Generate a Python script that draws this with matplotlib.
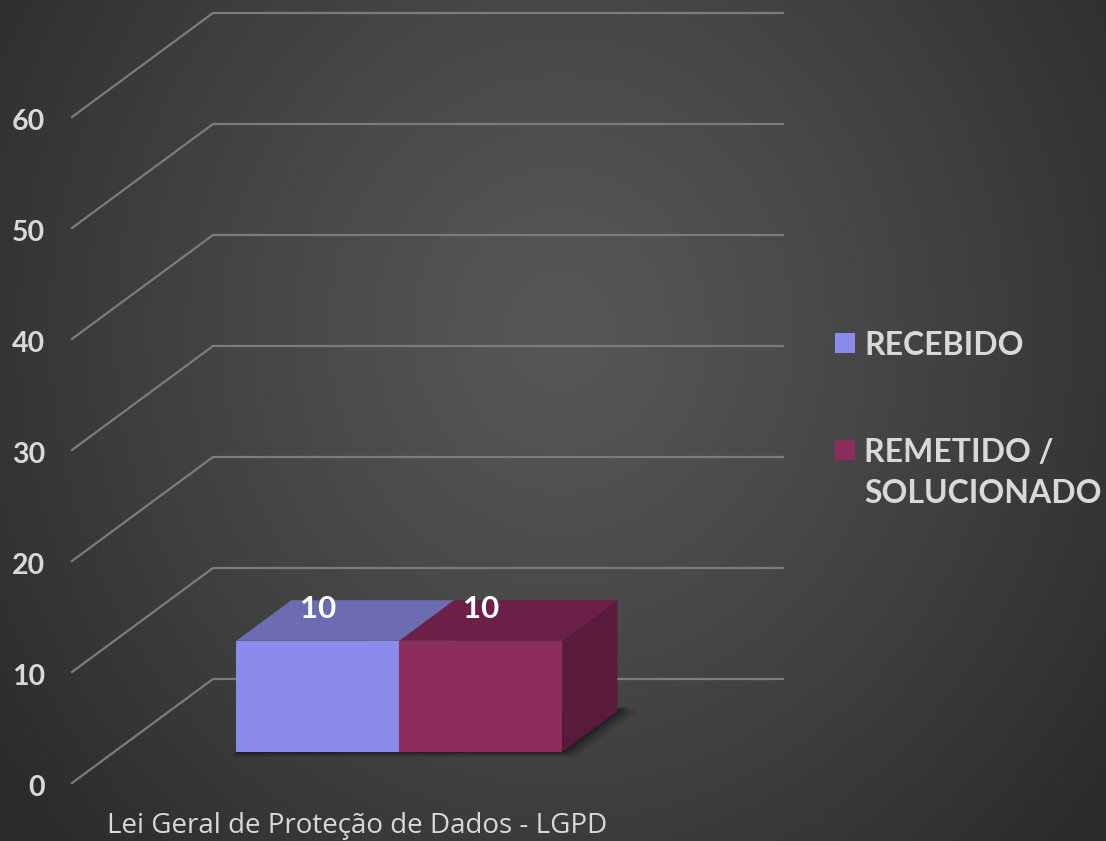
import numpy as np
import matplotlib
matplotlib.use("Agg")
import matplotlib.pyplot as plt
from matplotlib.patches import Polygon, Rectangle

# ---- data ----
category = "Lei Geral de Proteção de Dados - LGPD"
series_names = ["RECEBIDO", "REMETIDO /\nSOLUCIONADO"]
series_values = [10, 10]
y_ticks = [0, 10, 20, 30, 40, 50, 60]
front_colors = ["#8B8BEB", "#8C2D5C"]
top_colors = ["#6C6CB2", "#6C2047"]
side_colors = ["#5E5EA0", "#5A1A3B"]

W, H = 1106, 841
fig = plt.figure(figsize=(W / 100, H / 100), dpi=100)

# background radial gradient
bg = fig.add_axes([0, 0, 1, 1], zorder=0)
yy, xx = np.mgrid[0:H, 0:W]
r = np.sqrt(((xx - 560) / 1.0) ** 2 + ((yy - 330) / 1.1) ** 2)
t = np.clip(r / 700.0, 0, 1)
c0, c1 = 0x57 / 255, 0x2a / 255
img = c0 + (c1 - c0) * t ** 1.2
bg.imshow(np.dstack([img, img, img]), aspect="auto", extent=[0, W, H, 0])
bg.axis("off")

# main axes: x in category units (front floor 0..1), y in value units
ax = fig.add_axes([0, 0, 1, 1], zorder=1)
ax.set_facecolor("none")
px_per_u = 570.0
px_per_v = 11.1
x_left_px, y_zero_px = 72.0, 783.0
ax.set_xlim(-x_left_px / px_per_u, (W - x_left_px) / px_per_u)
ax.set_ylim(-(H - y_zero_px) / px_per_v, y_zero_px / px_per_v)
ax.axis("off")

DX = 141.0 / px_per_u   # depth offset in x units
DY = 104.0 / px_per_v   # depth offset in value units


def proj(u, v, d):
    return (u + d * DX, v + d * DY)


# gridlines (side wall diagonal + back wall horizontal)
for v in y_ticks:
    pts = [proj(0, v, 0), proj(0, v, 1), proj(1, v, 1)]
    ax.plot([p[0] for p in pts], [p[1] for p in pts], color="#7c7c7c", lw=1.6,
            solid_joinstyle="miter", zorder=2)
    ax.text(-(x_left_px - 45) / px_per_u, v - 5 / px_per_v, str(v), ha="right", va="center",
            fontsize=20.5, fontweight="bold", color="#d9d9d9", family="Lato")

# bars
group_w = 0.572
bar_w = group_w / len(series_values)
d0, d1 = 0.3, 0.69
g0 = 0.5 - group_w / 2

# soft shadow on the floor
for k, a in zip([14, 10, 6, 3], [0.10, 0.12, 0.15, 0.2]):
    e = k / px_per_u
    ev = k / px_per_v
    sx0, sx1 = g0 - e * 0.4, g0 + group_w + e
    shadow = [proj(sx0, -ev * 0.35, d0), proj(sx1, -ev * 0.35, d0),
              proj(sx1, -ev * 0.35, d1 + 0.05), proj(sx0, -ev * 0.35, d1 + 0.05)]
    ax.add_patch(Polygon(shadow, closed=True, facecolor="black", edgecolor="none",
                         alpha=a, zorder=3))

for i, v in enumerate(series_values):
    x0 = g0 + i * bar_w
    x1 = x0 + bar_w
    side = [proj(x1, 0, d0), proj(x1, 0, d1), proj(x1, v, d1), proj(x1, v, d0)]
    top = [proj(x0, v, d0), proj(x1, v, d0), proj(x1, v, d1), proj(x0, v, d1)]
    front = [proj(x0, 0, d0), proj(x1, 0, d0), proj(x1, v, d0), proj(x0, v, d0)]
    z = 4 + i
    ax.add_patch(Polygon(side, closed=True, facecolor=side_colors[i], edgecolor="none", zorder=z))
    ax.add_patch(Polygon(top, closed=True, facecolor=top_colors[i], edgecolor="none", zorder=z))
    ax.add_patch(Polygon(front, closed=True, facecolor=front_colors[i], edgecolor="none", zorder=z))
    lx, ly = proj((x0 + x1) / 2, v, d0)
    ax.text(lx, ly + 32 / px_per_v, str(v), ha="center", va="center", fontsize=22.5,
            fontweight="bold", color="white", family="Lato", zorder=10)

# category label
cx, _ = proj(0.5, 0, 0)
ax.text(cx, -(826 - y_zero_px) / px_per_v, category, ha="center", va="center",
        fontsize=20, color="#d9d9d9", family="Open Sans")

# legend (manual)
def px2u(px):
    return (px - x_left_px) / px_per_u


def py2v(py):
    return (y_zero_px - py) / px_per_v


leg_items = [(series_names[0], 343), (series_names[1], 450)]
for i, (name, yc) in enumerate(leg_items):
    ax.add_patch(Rectangle((px2u(835), py2v(yc + 10)), 20 / px_per_u, 20 / px_per_v,
                           facecolor=front_colors[i], edgecolor="none", zorder=5))
    ax.text(px2u(864), py2v(yc - 12), name, ha="left", va="top", fontsize=23,
            fontweight="bold", color="#d9d9d9", family="Lato", linespacing=1.5)

fig.savefig("out.png", dpi=100)
